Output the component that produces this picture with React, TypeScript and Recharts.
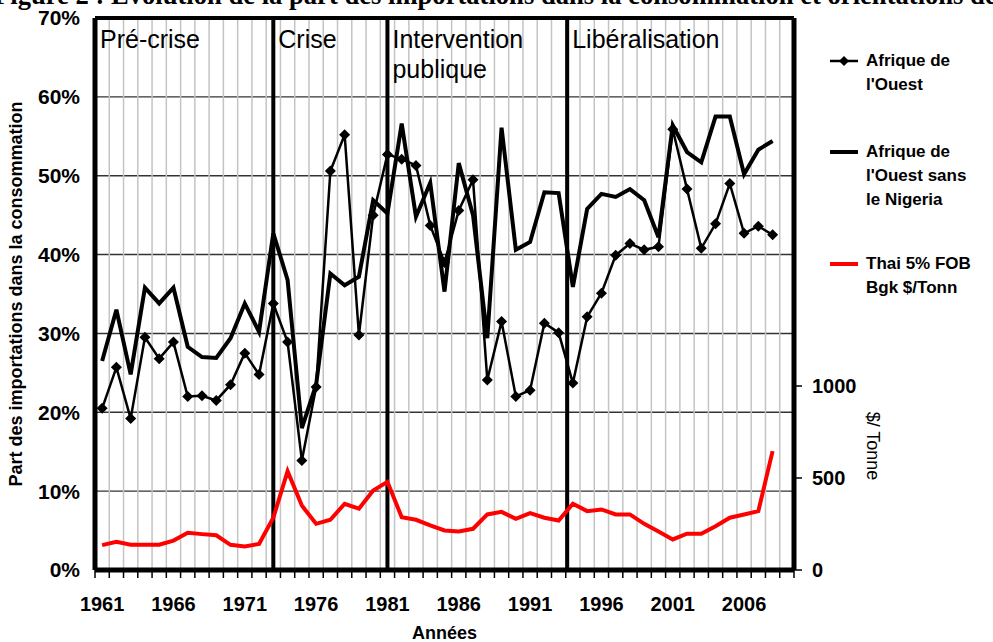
import { ComposedChart, Line, XAxis, YAxis, CartesianGrid, ReferenceLine, Legend, Label } from 'recharts'

const years = [
  1961, 1962, 1963, 1964, 1965, 1966, 1967, 1968, 1969, 1970,
  1971, 1972, 1973, 1974, 1975, 1976, 1977, 1978, 1979, 1980,
  1981, 1982, 1983, 1984, 1985, 1986, 1987, 1988, 1989, 1990,
  1991, 1992, 1993, 1994, 1995, 1996, 1997, 1998, 1999, 2000,
  2001, 2002, 2003, 2004, 2005, 2006, 2007, 2008,
]

// part des importations (%)
const afriqueOuest = [
  20.5, 25.7, 19.2, 29.5, 26.8, 28.9, 22.0, 22.1, 21.5, 23.5,
  27.5, 24.8, 33.8, 28.9, 13.9, 23.2, 50.6, 55.2, 29.8, 45.0,
  52.7, 52.1, 51.3, 43.7, 39.0, 45.6, 49.5, 24.1, 31.5, 22.0,
  22.8, 31.3, 30.1, 23.7, 32.1, 35.1, 39.9, 41.4, 40.6, 41.0,
  55.9, 48.3, 40.8, 43.9, 49.0, 42.7, 43.6, 42.5,
]
const afriqueOuestSansNigeria = [
  26.5, 33.0, 24.8, 35.8, 33.8, 35.8, 28.3, 27.0, 26.9, 29.4,
  33.8, 30.2, 42.7, 36.8, 18.0, 23.5, 37.6, 36.1, 37.2, 46.9,
  45.2, 56.6, 44.8, 49.1, 35.3, 51.6, 45.0, 29.4, 56.1, 40.6,
  41.6, 47.9, 47.8, 35.9, 45.8, 47.7, 47.3, 48.3, 46.9, 42.2,
  56.4, 53.0, 51.7, 57.5, 57.5, 50.2, 53.3, 54.4,
]
// prix Thai 5% FOB Bangkok ($/t)
const thaiPrix = [
  135, 153, 137, 137, 137, 160, 202, 195, 189, 137,
  128, 142, 284, 537, 350, 251, 273, 360, 333, 432,
  479, 287, 273, 242, 215, 209, 224, 302, 316, 278,
  309, 284, 269, 360, 320, 329, 302, 302, 251, 209,
  166, 197, 197, 238, 284, 302, 320, 646,
]

const yearTicks = [1961, 1966, 1971, 1976, 1981, 1986, 1991, 1996, 2001, 2006]
const pctTicks = [0, 10, 20, 30, 40, 50, 60, 70]
const usdTicks = [0, 500, 1000]
const phases = [
  { at: 1960.5, lines: ['Pré-crise'] },
  { at: 1973, lines: ['Crise'] },
  { at: 1981, lines: ['Intervention', 'publique'] },
  { at: 1993.6, lines: ['Libéralisation'] },
]

const FONT = '"Liberation Sans", Arial, Helvetica, sans-serif'

const data = years.map((year, i) => ({
  year,
  ao: afriqueOuest[i],
  aosn: afriqueOuestSansNigeria[i],
  thai: thaiPrix[i],
}))
// limites entre années (graduations + quadrillage vertical)
const boundaries = Array.from({ length: 50 }, (_, i) => 1960.5 + i)
const xTicks = [...boundaries, ...yearTicks].sort((a, b) => a - b)
const labelYears = new Set(yearTicks)

function Diamond(props: any) {
  const { cx, cy } = props
  if (cx == null || cy == null) return null
  const r = 5.5
  return <path d={`M${cx},${cy - r}L${cx + r},${cy}L${cx},${cy + r}L${cx - r},${cy}Z`} fill="#000" />
}

function XTick(props: any) {
  const { x, y, payload } = props
  const v = payload.value
  if (labelYears.has(v)) {
    return (
      <text x={x} y={y + 41} textAnchor="middle" fontSize={20} fontWeight="bold" fontFamily={FONT} fill="#000">{v}</text>
    )
  }
  return <line x1={x} x2={x} y1={y} y2={y + 8} stroke="#000" strokeWidth={1.5} />
}

const phaseLabel = (lines: string[]) => (props: any) => {
  const vb = props.viewBox || {}
  const x = vb.x + 5
  return (
    <text x={x} y={vb.y + 30} fontSize={25} fontFamily={FONT} fill="#000">
      {lines.map((l, i) => (
        <tspan key={l} x={x} dy={i === 0 ? 0 : 30}>{l}</tspan>
      ))}
    </text>
  )
}

function LegendBox({ payload }: any) {
  return (
    <div style={{ fontFamily: FONT, fontWeight: 'bold', fontSize: 17, lineHeight: '24px', color: '#000' }}>
      {(payload || []).map((e: any, i: number) => (
        <div key={e.value} style={{ display: 'flex', marginBottom: i === 0 ? 43 : 40 }}>
          <svg width={36} height={24} style={{ flex: 'none' }}>
            <line x1={0} x2={28} y1={12} y2={12} stroke={e.color} strokeWidth={e.dataKey === 'ao' ? 2.5 : 4} />
            {e.dataKey === 'ao' && <path d="M14,7L19,12L14,17L9,12Z" fill="#000" />}
          </svg>
          <div style={{ width: 116 }}>{e.value}</div>
        </div>
      ))}
    </div>
  )
}

const tickBold = { fontSize: 20, fontWeight: 'bold', fill: '#000', fontFamily: FONT }

export default function App() {
  return (
    <div style={{ position: 'absolute', left: 0, top: 0, width: 993, height: 642, overflow: 'hidden', background: '#fff' }}>
      <div style={{ position: 'absolute', left: -6, top: -18, lineHeight: '27px', whiteSpace: 'nowrap', fontFamily: '"Liberation Serif", "Times New Roman", serif', fontWeight: 'bold', fontSize: 26.6 }}>
        Figure 2 : Evolution de la part des importations dans la consommation et orientations des politiques
      </div>
      <ComposedChart width={993} height={642} data={data} margin={{ top: 18, right: 99, bottom: 0, left: 0 }}>
        {boundaries.map(b => (
          <ReferenceLine key={'g' + b} xAxisId="x" yAxisId="pct" x={b} stroke="#c4c4c4" strokeWidth={1.5} />
        ))}
        <CartesianGrid xAxisId="x" yAxisId="pct" vertical={false} stroke="#333" strokeWidth={1.4} />
        <XAxis xAxisId="x" type="number" dataKey="year" domain={[1960.5, 2009.5]} ticks={xTicks} interval={0}
          height={72} tick={<XTick />} tickSize={0} tickMargin={0} tickLine={false}
          axisLine={{ stroke: '#000', strokeWidth: 5 }}>
          <Label value="Années" position="insideBottom" offset={3} style={{ fontSize: 18, fontWeight: 'bold', fill: '#000', fontFamily: FONT }} />
        </XAxis>
        <YAxis yAxisId="pct" domain={[0, 70]} ticks={pctTicks} interval={0} width={95}
          tickFormatter={(v: number) => `${v}%`} tick={{ ...tickBold, fontSize: 21 }} tickLine={false} tickSize={0} tickMargin={15}
          axisLine={{ stroke: '#000', strokeWidth: 5 }}>
          <Label content={() => (
            <text x={22} y={294} transform="rotate(-90 22 294)" textAnchor="middle" fontSize={18} fontWeight="bold" fontFamily={FONT} fill="#000">
              Part des importations dans la consommation
            </text>
          )} />
        </YAxis>
        <YAxis yAxisId="usd" orientation="right" domain={[0, 3000]} ticks={usdTicks} interval={0} width={100}
          tick={tickBold} tickSize={8} tickMargin={10} tickLine={{ stroke: '#000', strokeWidth: 1.5 }}
          axisLine={{ stroke: '#000', strokeWidth: 5 }}>
          <Label content={() => (
            <text x={867} y={446} transform="rotate(90 867 446)" textAnchor="middle" fontSize={18} fontFamily={FONT} fill="#000">
              $/ Tonne
            </text>
          )} />
        </YAxis>
        <ReferenceLine xAxisId="x" yAxisId="pct" y={70} stroke="#000" strokeWidth={4} />
        {phases.map(p => (
          <ReferenceLine key={p.at} xAxisId="x" yAxisId="pct" x={p.at} stroke="#000" strokeWidth={4} label={phaseLabel(p.lines)} />
        ))}
        <Legend layout="horizontal" verticalAlign="middle" content={<LegendBox />}
          wrapperStyle={{ position: 'absolute', left: 830, top: 49, width: 163, right: 'auto', bottom: 'auto' }} />
        <Line xAxisId="x" yAxisId="pct" type="linear" dataKey="ao" name="Afrique de l'Ouest" stroke="#000" strokeWidth={2.5}
          dot={<Diamond />} activeDot={false} isAnimationActive={false} />
        <Line xAxisId="x" yAxisId="pct" type="linear" dataKey="aosn" name="Afrique de l'Ouest sans le Nigeria" stroke="#000" strokeWidth={4}
          dot={false} activeDot={false} isAnimationActive={false} />
        <Line xAxisId="x" yAxisId="usd" type="linear" dataKey="thai" name="Thai 5% FOB Bgk $/Tonn" stroke="#ff0000" strokeWidth={4}
          dot={false} activeDot={false} isAnimationActive={false} />
      </ComposedChart>
    </div>
  )
}
